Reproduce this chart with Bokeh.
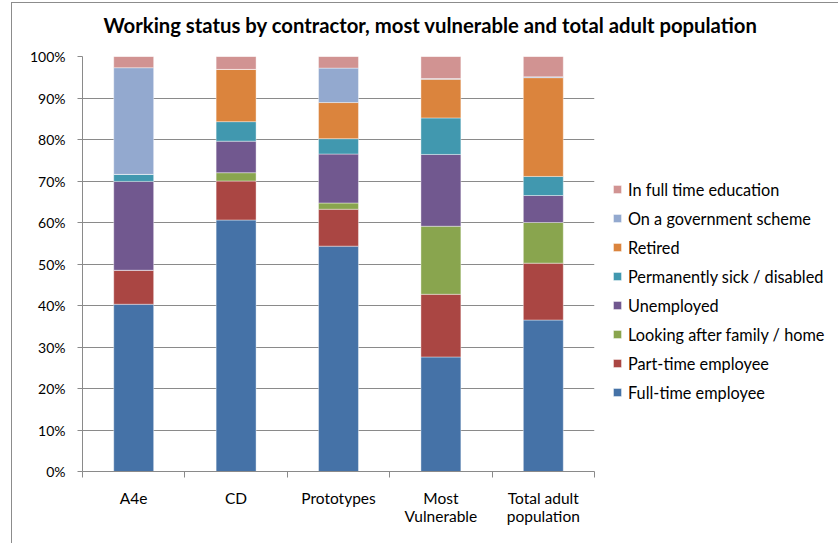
from bokeh.plotting import figure
from bokeh.models import Range1d, FixedTicker, Legend, LegendItem, ColumnDataSource
from bokeh.embed import file_html
from bokeh.resources import INLINE

# Working status shares (%) for each group
groups = ["A4e", "CD", "Prototypes", "Most\nVulnerable", "Total adult\npopulation"]
full_time = [40.3, 60.6, 54.3, 27.6, 36.5]
part_time = [8.2, 9.4, 8.9, 15.1, 13.7]
family_home = [0.0, 2.0, 1.5, 16.4, 9.8]
unemployed = [21.4, 7.6, 11.8, 17.3, 6.5]
sick_disabled = [1.7, 4.7, 3.7, 8.8, 4.6]
retired = [0.0, 12.6, 8.7, 9.3, 23.8]
gov_scheme = [25.7, 0.0, 8.3, 0.2, 0.2]
education = [2.7, 3.1, 2.8, 5.3, 4.9]

series_names = ["Full-time employee", "Part-time employee", "Looking after family / home",
                "Unemployed", "Permanently sick / disabled", "Retired",
                "On a government scheme", "In full time education"]
series_values = [full_time, part_time, family_home, unemployed, sick_disabled,
                 retired, gov_scheme, education]
colors = ["#4572A7", "#AA4643", "#89A54E", "#71588F", "#4198AF", "#DB843D",
          "#93A9CF", "#D19392"]
y_ticks = list(range(0, 101, 10))

FONT = "Lato"
GRID = "#8a8a8a"

x_pos = [i + 0.5 for i in range(len(groups))]
keys = [f"s{i}" for i in range(len(series_names))]
data = {"x": x_pos}
for k, v in zip(keys, series_values):
    data[k] = v
source = ColumnDataSource(data)

p = figure(frame_width=512, frame_height=415,
           x_range=Range1d(0, len(groups)), y_range=Range1d(0, 100),
           output_backend="svg", toolbar_location=None,
           min_border_left=70, min_border_right=0, min_border_top=53, min_border_bottom=72)
p.margin = (2, 0, 0, 11)
p.styles = {"border-left": "1px solid #8c8c8c", "border-top": "1px solid #8c8c8c"}

renderers = p.vbar_stack(keys, x="x", width=0.39, source=source, color=colors,
                         line_color="white", line_alpha=0.5, line_width=0.8)

# Title (trailing blank line keeps it clear of the plot area)
p.title.text = "Working status by contractor, most vulnerable and total adult population\n"
p.title.text_font = FONT
p.title.text_font_size = "20.3px"
p.title.text_font_style = "bold"
p.title.text_color = "#000000"
p.title.text_line_height = 0.8
p.title.align = "left"
p.title.offset = 21
p.title.standoff = 0

# Grid
p.xgrid.grid_line_color = None
p.ygrid.ticker = FixedTicker(ticks=y_ticks)
p.ygrid.grid_line_color = GRID
p.ygrid.grid_line_width = 1
p.outline_line_color = None

# Y axis
p.yaxis.ticker = FixedTicker(ticks=y_ticks)
p.yaxis.major_label_overrides = {t: f"{t}%" for t in y_ticks}
p.yaxis.major_label_text_font = FONT
p.yaxis.major_label_text_font_size = "14px"
p.yaxis.major_label_text_color = "#000000"
p.yaxis.axis_line_color = GRID
p.yaxis.major_tick_line_color = GRID
p.yaxis.major_tick_out = 5
p.yaxis.major_tick_in = 0
p.yaxis.minor_tick_line_color = None
p.yaxis.major_label_standoff = 12

# X axis: labels centred on bars, tick marks between groups
p.xaxis.ticker = FixedTicker(ticks=x_pos, minor_ticks=list(range(len(groups) + 1)))
p.xaxis.major_label_overrides = {x: g for x, g in zip(x_pos, groups)}
p.xaxis.major_label_text_font = FONT
p.xaxis.major_label_text_font_size = "15.5px"
p.xaxis.major_label_text_color = "#000000"
p.xaxis.major_label_text_line_height = 1.0
p.xaxis.axis_line_color = GRID
p.xaxis.major_tick_line_color = None
p.xaxis.major_tick_out = 6
p.xaxis.minor_tick_line_color = GRID
p.xaxis.minor_tick_out = 6
p.xaxis.minor_tick_in = 0
p.xaxis.major_label_standoff = 11

# Legend, top entry first
items = [LegendItem(label=n, renderers=[r]) for n, r in zip(series_names, renderers)][::-1]
legend = Legend(items=items, location=(18, 69), border_line_color=None,
                background_fill_alpha=0, padding=0, margin=0,
                glyph_width=10, glyph_height=10, label_height=20, spacing=9,
                label_standoff=6, label_text_font=FONT, label_text_font_size="16.3px",
                label_text_color="#000000")
p.add_layout(legend, "right")

open("out.html", "w").write(file_html(p, INLINE))
